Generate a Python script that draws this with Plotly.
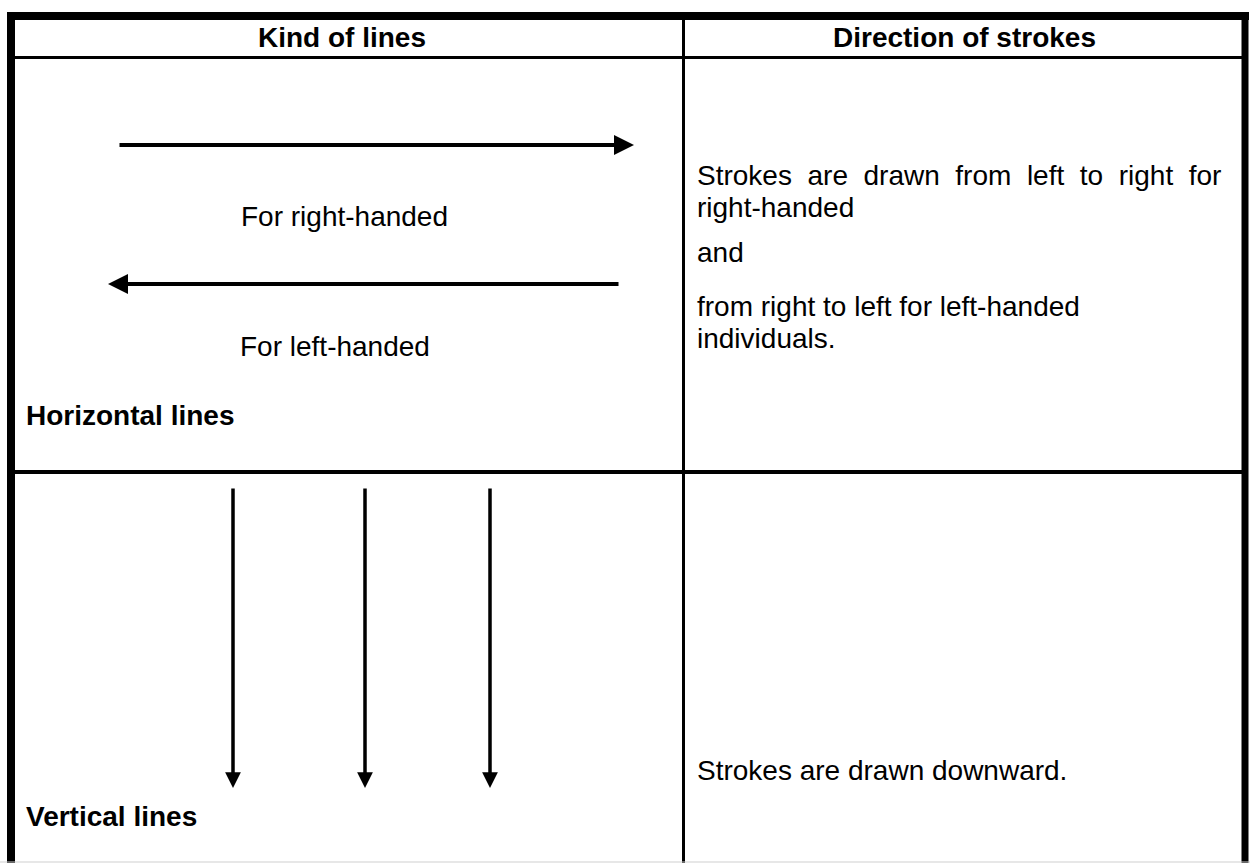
import plotly.graph_objects as go

W, H = 1250, 863

# ---- content ----
header_labels = ["Kind of lines", "Direction of strokes"]
row_labels = ["Horizontal lines", "Vertical lines"]
horizontal_captions = ["For right-handed", "For left-handed"]
NB = "\u00a0"
right_row1 = [
    ("Strokes " + NB + "are " + NB + "drawn " + NB + "from " + NB + "left " + NB + "to " + NB + "right " + NB + "for", 175),
    ("right-handed", 207),
    ("and", 252),
    ("from right to left for left-handed", 306),
    ("individuals.", 338),
]
right_row2 = [("Strokes are drawn downward.", 770)]

# arrow geometry: (tail_x, tail_y, tip_x, tip_y)
horizontal_arrows = [(118, 145, 634, 145), (620, 284, 108, 284)]
vertical_arrow_x = [233, 365, 490]
vertical_arrow_top, vertical_arrow_tip = 487, 788

FONT = "Liberation Sans, Arial, sans-serif"
FS = 28

fig = go.Figure()
fig.add_trace(go.Scatter(x=[0, W], y=[0, H], mode="markers",
                         marker=dict(opacity=0), hoverinfo="skip", showlegend=False))

shapes = []
def line(x0, y0, x1, y1, w, color="black"):
    shapes.append(dict(type="line", xref="x", yref="y", x0=x0, y0=y0, x1=x1, y1=y1,
                       line=dict(color=color, width=w)))

# outer borders
line(7, 16, 1249, 16, 8)
line(11, 12, 11, H, 8)
line(1245, 12, 1245, H, 7)
# inner grid
line(15, 57.5, 1242, 57.5, 3)
line(683.5, 20, 683.5, H, 3)
line(15, 472, 1242, 472, 4)
# faint bottom edge
line(0, 862, W, 862, 1, "#cfcfcf")

ann = []
def text(t, x, y, xanchor="left", bold=False):
    ann.append(dict(text=("<b>%s</b>" % t) if bold else t, x=x, y=y, xref="x", yref="y",
                    xanchor=xanchor, yanchor="middle", showarrow=False,
                    font=dict(family=FONT, size=FS, color="black")))

text(header_labels[0], 342, 37, "center", True)
text(header_labels[1], 964, 37, "center", True)
text(horizontal_captions[0], 344, 216, "center")
text(horizontal_captions[1], 335, 346, "center")
text(row_labels[0], 24, 415, "left", True)
text(row_labels[1], 24, 816, "left", True)
for t, y in right_row1 + right_row2:
    text(t, 695, y, "left")

for (tx, ty, hx, hy) in horizontal_arrows:
    ann.append(dict(x=hx, y=hy, ax=tx, ay=ty, xref="x", yref="y", axref="x", ayref="y",
                    text="", showarrow=True, arrowhead=2, arrowsize=1.0,
                    arrowwidth=4, arrowcolor="black"))
for vx in vertical_arrow_x:
    ann.append(dict(x=vx, y=vertical_arrow_tip, ax=vx, ay=vertical_arrow_top,
                    xref="x", yref="y", axref="x", ayref="y",
                    text="", showarrow=True, arrowhead=2, arrowsize=0.9,
                    arrowwidth=3.5, arrowcolor="black"))

fig.update_layout(
    width=W, height=H, margin=dict(l=0, r=0, t=0, b=0),
    paper_bgcolor="white", plot_bgcolor="white",
    xaxis=dict(range=[0, W], visible=False, fixedrange=True),
    yaxis=dict(range=[H, 0], visible=False, fixedrange=True),
    shapes=shapes, annotations=ann, showlegend=False,
)
fig.write_html(
    "out.html",
    config={"displayModeBar": False},
    post_script="document.body.style.margin='0';document.body.style.overflow='hidden';",
)
